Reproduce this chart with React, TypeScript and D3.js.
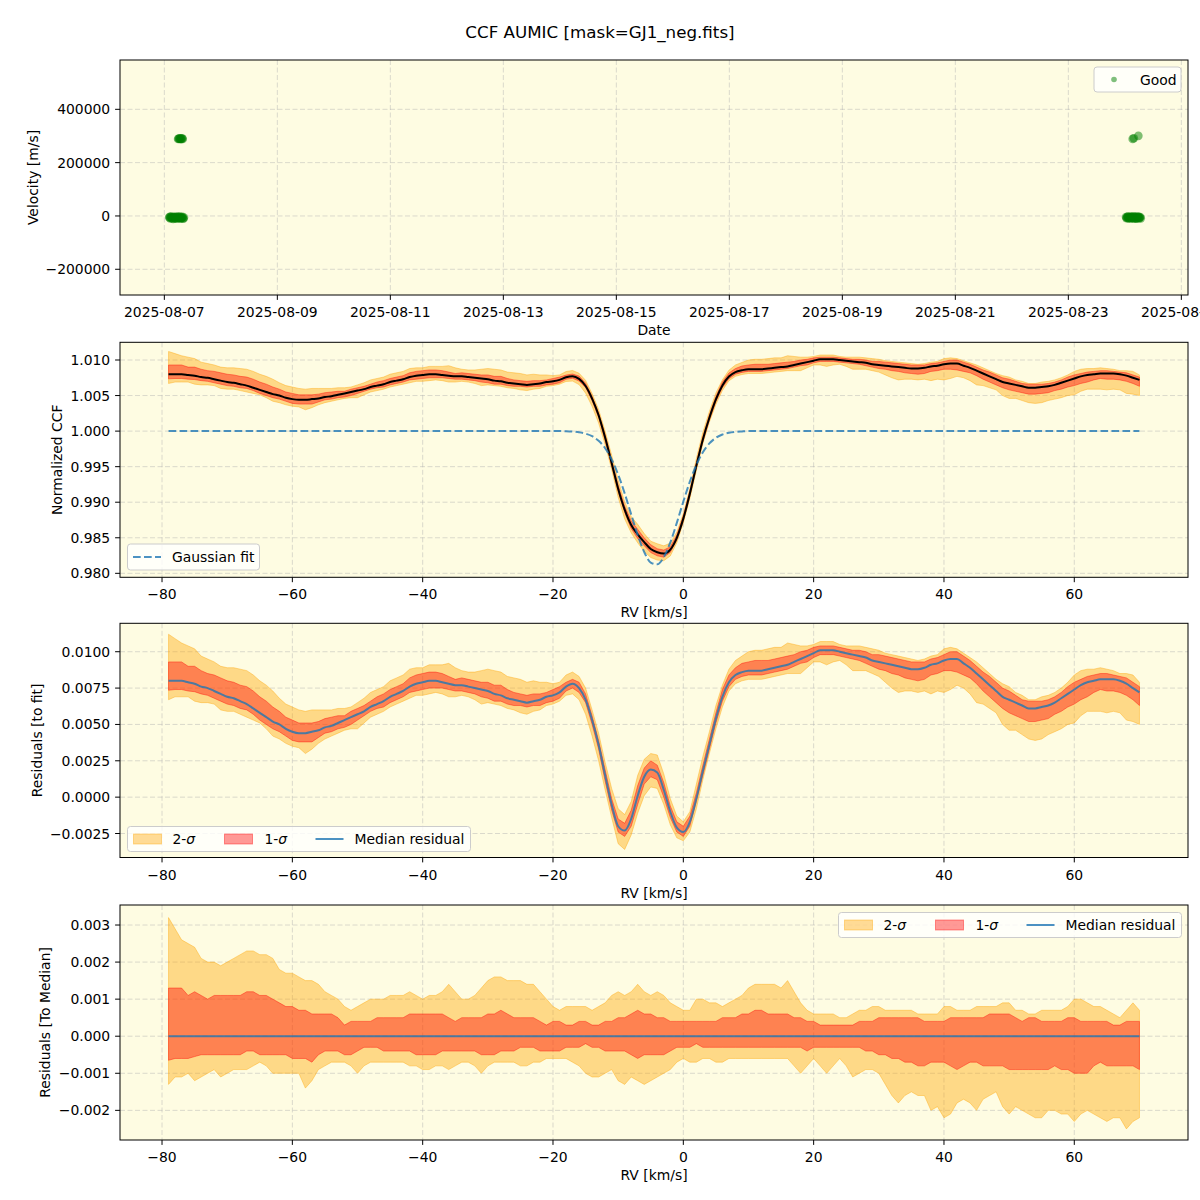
import { useEffect, useRef } from 'react';
import * as d3 from 'd3';

// ---- top panel: observation epochs (UTC) and velocities [m/s]
const obsTimes = [
  '2025-08-07T02:05', '2025-08-07T02:17', '2025-08-07T02:30', '2025-08-07T02:42', '2025-08-07T02:55',
  '2025-08-07T03:07', '2025-08-07T03:20', '2025-08-07T03:32', '2025-08-07T03:45', '2025-08-07T03:57',
  '2025-08-07T04:10', '2025-08-07T04:22', '2025-08-07T04:35', '2025-08-07T04:47', '2025-08-07T05:00',
  '2025-08-07T05:12', '2025-08-07T05:25', '2025-08-07T05:37', '2025-08-07T05:50', '2025-08-07T06:02',
  '2025-08-07T06:15', '2025-08-07T06:27', '2025-08-07T06:40', '2025-08-07T06:52', '2025-08-07T07:05',
  '2025-08-07T07:17', '2025-08-07T07:30', '2025-08-07T07:42', '2025-08-07T07:55', '2025-08-07T08:07',
  '2025-08-07T08:20',
  '2025-08-07T05:50', '2025-08-07T06:05', '2025-08-07T06:20', '2025-08-07T06:35', '2025-08-07T06:50',
  '2025-08-07T07:05', '2025-08-07T07:20', '2025-08-07T07:35', '2025-08-07T07:50',
  '2025-08-24T00:30', '2025-08-24T00:42', '2025-08-24T00:55', '2025-08-24T01:07', '2025-08-24T01:20',
  '2025-08-24T01:32', '2025-08-24T01:45', '2025-08-24T01:57', '2025-08-24T02:10', '2025-08-24T02:22',
  '2025-08-24T02:35', '2025-08-24T02:47', '2025-08-24T03:00', '2025-08-24T03:12', '2025-08-24T03:25',
  '2025-08-24T03:37', '2025-08-24T03:50', '2025-08-24T04:02', '2025-08-24T04:15', '2025-08-24T04:27',
  '2025-08-24T04:40', '2025-08-24T04:52', '2025-08-24T05:05', '2025-08-24T05:17', '2025-08-24T05:30',
  '2025-08-24T05:42', '2025-08-24T05:55', '2025-08-24T06:07', '2025-08-24T06:20', '2025-08-24T06:32',
  '2025-08-24T06:45',
  '2025-08-24T03:20', '2025-08-24T03:50', '2025-08-24T05:45',
];
const obsVelocity = [
  -6000, -3500, -9000, -4500, -2500, -8000, -7500, -5000, -11000, -3000,
  -4000, -9500, -8000, -6000, -5000, -2500, -10000, -7000, -3000, -8500,
  -7000, -4500, -2000, -9000, -9500, -6500, -5500, -3500, -8500, -10500,
  -6000,
  288500, 290000, 289500, 291000, 288000, 290500, 289000, 291500, 288500,
  -4000, -8000, -7000, -3000, -2500, -9000, -8500, -6000, -5000, -2000,
  -9500, -4500, -3500, -7500, -6500, -10000, -1500, -5500, -8000, -3000,
  -4500, -9000, -10000, -6500, -3000, -2500, -7000, -8500, -5500, -4000,
  -9000,
  289000, 291500, 300500,
];
const dateTicks = [
  '2025-08-07', '2025-08-09', '2025-08-11', '2025-08-13', '2025-08-15',
  '2025-08-17', '2025-08-19', '2025-08-21', '2025-08-23', '2025-08-25',
];
const velocityTicks = [-200000, 0, 200000, 400000];

// ---- CCF profile, sampled every 1 km/s from -79 to 70 km/s
const rvGrid = d3.range(-79, 71);
const gaussFit = [
  1, 1, 1, 1, 1, 1, 1, 1, 1, 1,
  1, 1, 1, 1, 1, 1, 1, 1, 1, 1,
  1, 1, 1, 1, 1, 1, 1, 1, 1, 1,
  1, 1, 1, 1, 1, 1, 1, 1, 1, 1,
  1, 1, 1, 1, 1, 1, 1, 1, 1, 1,
  1, 1, 1, 1, 1, 1, 1, 1, 1, 1,
  1, 0.99998, 0.99993, 0.99984, 0.99964, 0.99928, 0.99863, 0.99759, 0.99603, 0.99389,
  0.99125, 0.98829, 0.98539, 0.98299, 0.98152, 0.98126, 0.98227, 0.98434, 0.9871, 0.99009,
  0.99289, 0.99524, 0.99703, 0.99827, 0.99906, 0.99952, 0.99977, 0.9999, 0.99996, 1,
  1, 1, 1, 1, 1, 1, 1, 1, 1, 1,
  1, 1, 1, 1, 1, 1, 1, 1, 1, 1,
  1, 1, 1, 1, 1, 1, 1, 1, 1, 1,
  1, 1, 1, 1, 1, 1, 1, 1, 1, 1,
  1, 1, 1, 1, 1, 1, 1, 1, 1, 1,
  1, 1, 1, 1, 1, 1, 1, 1, 1, 1,
];
const medianResidual = [
  0.0080, 0.0080, 0.0080, 0.0079, 0.0078, 0.0076, 0.0075, 0.0073, 0.0071, 0.0069,
  0.0068, 0.0066, 0.0064, 0.0061, 0.0058, 0.0055, 0.0052, 0.0050, 0.0047, 0.0045,
  0.0044, 0.0044, 0.0045, 0.0046, 0.0048, 0.0049, 0.0051, 0.0053, 0.0055, 0.0057,
  0.0059, 0.0062, 0.0064, 0.0066, 0.0069, 0.0071, 0.0073, 0.0076, 0.0078, 0.0079,
  0.0080, 0.0080, 0.0079, 0.0078, 0.0077, 0.0077, 0.0076, 0.0075, 0.0074, 0.0073,
  0.0071, 0.0070, 0.0068, 0.0067, 0.0066, 0.0065, 0.0066, 0.0067, 0.0069, 0.0070,
  0.0072, 0.0076, 0.0078, 0.0075, 0.0067, 0.0053, 0.0036, 0.0015, -0.0005, -0.0020,
  -0.0023, -0.0015, 0.0001, 0.0014, 0.0019, 0.0017, 0.0005, -0.0010, -0.0021, -0.0024,
  -0.0017, -0.0001, 0.0018, 0.0036, 0.0054, 0.0069, 0.0079, 0.0084, 0.0086, 0.0087,
  0.0087, 0.0087, 0.0088, 0.0089, 0.0090, 0.0091, 0.0093, 0.0095, 0.0097, 0.0099,
  0.0101, 0.0101, 0.0101, 0.0100, 0.0099, 0.0098, 0.0097, 0.0096, 0.0094, 0.0093,
  0.0092, 0.0091, 0.0090, 0.0089, 0.0088, 0.0088, 0.0089, 0.0091, 0.0092, 0.0094,
  0.0095, 0.0095, 0.0092, 0.0089, 0.0085, 0.0081, 0.0077, 0.0073, 0.0069, 0.0067,
  0.0065, 0.0063, 0.0061, 0.0061, 0.0062, 0.0063, 0.0065, 0.0068, 0.0071, 0.0074,
  0.0077, 0.0079, 0.0080, 0.0081, 0.0081, 0.0081, 0.0080, 0.0078, 0.0075, 0.0072,
];
// spread of the individual CCFs around the median (bottom panel)
const sigma2Upper = [
  0.0032, 0.0029, 0.0026, 0.0025, 0.0024, 0.0021, 0.0020, 0.0020, 0.0019, 0.0020,
  0.0021, 0.0022, 0.0023, 0.0023, 0.0022, 0.0022, 0.0021, 0.0018, 0.0017, 0.0017,
  0.0016, 0.0015, 0.0015, 0.0014, 0.0012, 0.0011, 0.0010, 0.0008, 0.0007, 0.0008,
  0.0009, 0.0010, 0.0010, 0.0010, 0.0011, 0.0011, 0.0011, 0.0012, 0.0011, 0.0010,
  0.0011, 0.0011, 0.0012, 0.0014, 0.0012, 0.0010, 0.0010, 0.0011, 0.0013, 0.0015,
  0.0016, 0.0016, 0.0015, 0.0015, 0.0015, 0.0014, 0.0014, 0.0012, 0.0010, 0.0008,
  0.0007, 0.0008, 0.0008, 0.0008, 0.0008, 0.0007, 0.0008, 0.0009, 0.0011, 0.0012,
  0.0011, 0.0012, 0.0014, 0.0012, 0.0011, 0.0012, 0.0011, 0.0009, 0.0008, 0.0007,
  0.0007, 0.0010, 0.0010, 0.0009, 0.0009, 0.0008, 0.0009, 0.0010, 0.0011, 0.0013,
  0.0014, 0.0014, 0.0014, 0.0014, 0.0013, 0.0015, 0.0012, 0.0009, 0.0007, 0.0006,
  0.0006, 0.0006, 0.0006, 0.0005, 0.0005, 0.0006, 0.0007, 0.0007, 0.0008, 0.0008,
  0.0007, 0.0007, 0.0007, 0.0007, 0.0007, 0.0006, 0.0006, 0.0006, 0.0006, 0.0008,
  0.0008, 0.0007, 0.0007, 0.0007, 0.0008, 0.0008, 0.0008, 0.0008, 0.0009, 0.0009,
  0.0007, 0.0007, 0.0006, 0.0006, 0.0007, 0.0007, 0.0007, 0.0007, 0.0008, 0.0010,
  0.0010, 0.0009, 0.0008, 0.0008, 0.0007, 0.0006, 0.0005, 0.0007, 0.0009, 0.0007,
];
const sigma1Upper = [
  0.0013, 0.0013, 0.0013, 0.0011, 0.0012, 0.0011, 0.0010, 0.0011, 0.0011, 0.0011,
  0.0011, 0.0011, 0.0012, 0.0012, 0.0011, 0.0011, 0.0010, 0.0009, 0.0008, 0.0008,
  0.0007, 0.0007, 0.0006, 0.0006, 0.0006, 0.0006, 0.0005, 0.0003, 0.0004, 0.0004,
  0.0004, 0.0004, 0.0005, 0.0005, 0.0005, 0.0005, 0.0005, 0.0006, 0.0006, 0.0006,
  0.0006, 0.0006, 0.0006, 0.0005, 0.0004, 0.0005, 0.0005, 0.0005, 0.0005, 0.0006,
  0.0006, 0.0007, 0.0006, 0.0005, 0.0005, 0.0005, 0.0005, 0.0004, 0.0003, 0.0004,
  0.0004, 0.0003, 0.0003, 0.0004, 0.0004, 0.0003, 0.0003, 0.0004, 0.0004, 0.0005,
  0.0005, 0.0006, 0.0007, 0.0006, 0.0006, 0.0005, 0.0005, 0.0004, 0.0004, 0.0004,
  0.0004, 0.0004, 0.0004, 0.0004, 0.0004, 0.0005, 0.0005, 0.0005, 0.0006, 0.0006,
  0.0007, 0.0007, 0.0006, 0.0006, 0.0006, 0.0006, 0.0005, 0.0005, 0.0004, 0.0004,
  0.0003, 0.0003, 0.0003, 0.0003, 0.0003, 0.0003, 0.0004, 0.0004, 0.0004, 0.0005,
  0.0005, 0.0005, 0.0005, 0.0005, 0.0005, 0.0005, 0.0004, 0.0004, 0.0004, 0.0004,
  0.0005, 0.0005, 0.0005, 0.0005, 0.0005, 0.0005, 0.0006, 0.0006, 0.0006, 0.0006,
  0.0005, 0.0004, 0.0005, 0.0005, 0.0004, 0.0004, 0.0004, 0.0004, 0.0005, 0.0005,
  0.0004, 0.0004, 0.0004, 0.0004, 0.0004, 0.0003, 0.0003, 0.0004, 0.0004, 0.0004,
];
const sigma1Lower = [
  -0.00065, -0.0006, -0.0006, -0.0006, -0.00055, -0.0005, -0.0005, -0.0005, -0.0005, -0.0005,
  -0.0005, -0.0005, -0.0004, -0.0004, -0.0005, -0.0005, -0.0005, -0.0005, -0.0005, -0.0006,
  -0.0006, -0.0006, -0.0007, -0.0005, -0.0004, -0.0004, -0.0004, -0.0005, -0.0005, -0.0004,
  -0.0003, -0.0003, -0.0003, -0.0004, -0.0004, -0.0004, -0.0004, -0.0004, -0.0005, -0.0005,
  -0.0005, -0.0005, -0.0004, -0.0004, -0.0004, -0.0004, -0.0004, -0.0004, -0.0005, -0.0005,
  -0.0005, -0.0004, -0.0004, -0.0004, -0.0003, -0.0003, -0.0003, -0.0004, -0.0004, -0.0004,
  -0.0004, -0.0003, -0.0003, -0.0003, -0.0002, -0.0003, -0.0003, -0.0004, -0.0004, -0.0004,
  -0.0004, -0.0005, -0.0006, -0.0005, -0.0005, -0.0005, -0.0005, -0.0004, -0.0003, -0.0003,
  -0.0003, -0.0002, -0.0003, -0.0003, -0.0003, -0.0003, -0.0003, -0.0003, -0.0003, -0.0003,
  -0.0003, -0.0003, -0.0003, -0.0003, -0.0003, -0.0003, -0.0003, -0.0003, -0.0004, -0.0003,
  -0.0003, -0.0003, -0.0003, -0.0003, -0.0003, -0.0003, -0.0003, -0.0004, -0.0004, -0.0005,
  -0.0005, -0.0006, -0.0006, -0.0007, -0.0007, -0.0008, -0.0008, -0.0007, -0.0007, -0.0007,
  -0.0008, -0.0009, -0.0008, -0.0007, -0.0007, -0.0008, -0.0008, -0.0008, -0.0008, -0.0009,
  -0.0009, -0.0009, -0.0009, -0.0009, -0.0009, -0.0009, -0.0008, -0.0009, -0.0009, -0.0010,
  -0.0010, -0.0010, -0.0008, -0.0007, -0.0008, -0.0008, -0.0008, -0.0008, -0.0008, -0.0009,
];
const sigma2Lower = [
  -0.0013, -0.0011, -0.0011, -0.0010, -0.0012, -0.0011, -0.0010, -0.0009, -0.0011, -0.0010,
  -0.0009, -0.0009, -0.0009, -0.0008, -0.0007, -0.0008, -0.0010, -0.0010, -0.0010, -0.0010,
  -0.0010, -0.0014, -0.0012, -0.0009, -0.0008, -0.0007, -0.0007, -0.0007, -0.0008, -0.0010,
  -0.0008, -0.0007, -0.0007, -0.0007, -0.0007, -0.0007, -0.0007, -0.0008, -0.0008, -0.0009,
  -0.0009, -0.0008, -0.0008, -0.0009, -0.0008, -0.0007, -0.0007, -0.0008, -0.0010, -0.0008,
  -0.0007, -0.0007, -0.0007, -0.0007, -0.0008, -0.0008, -0.0007, -0.0007, -0.0006, -0.0006,
  -0.0006, -0.0006, -0.0007, -0.0008, -0.0010, -0.0011, -0.0011, -0.0010, -0.0009, -0.0012,
  -0.0013, -0.0011, -0.0012, -0.0013, -0.0012, -0.0011, -0.0010, -0.0009, -0.0007, -0.0006,
  -0.0007, -0.0007, -0.0006, -0.0006, -0.0007, -0.0007, -0.0006, -0.0006, -0.0006, -0.0006,
  -0.0006, -0.0006, -0.0006, -0.0006, -0.0006, -0.0006, -0.0008, -0.0010, -0.0008, -0.0006,
  -0.0008, -0.0010, -0.0008, -0.0006, -0.0008, -0.0011, -0.0010, -0.0009, -0.0009, -0.0010,
  -0.0013, -0.0016, -0.0018, -0.0016, -0.0015, -0.0016, -0.0016, -0.0020, -0.0019, -0.0022,
  -0.0021, -0.0018, -0.0017, -0.0018, -0.0020, -0.0017, -0.0016, -0.0015, -0.0019, -0.0021,
  -0.0019, -0.0020, -0.0021, -0.0022, -0.0022, -0.0020, -0.0020, -0.0021, -0.0021, -0.0023,
  -0.0021, -0.0020, -0.0021, -0.0022, -0.0023, -0.0022, -0.0022, -0.0025, -0.0023, -0.0022,
];

const rvTicks = [-80, -60, -40, -20, 0, 20, 40, 60];
const ccfTicks = [0.98, 0.985, 0.99, 0.995, 1.0, 1.005, 1.01];
const residTicks = [-0.0025, 0, 0.0025, 0.005, 0.0075, 0.01];
const spreadTicks = [-0.002, -0.001, 0, 0.001, 0.002, 0.003];

const W = 1200;
const H = 1200;
const LEFT = 120;
const RIGHT = 1188;
const BG = '#fefce2';
const FONT = '"DejaVu Sans", sans-serif';
const FS = 13.9;
const ORANGE = '#ffa500';
const RED = '#ff0000';
const BLUE = '#1f77b4';

type G = d3.Selection<SVGGElement, unknown, null, undefined>;

function panelBase(svg: G, id: string, top: number, bottom: number, xs: number[], ys: number[]) {
  svg.append('rect')
    .attr('x', LEFT).attr('y', top)
    .attr('width', RIGHT - LEFT).attr('height', bottom - top)
    .attr('fill', BG);

  const grid = svg.append('g')
    .attr('stroke', '#b0b0b0')
    .attr('stroke-opacity', 0.5)
    .attr('stroke-width', 0.9)
    .attr('stroke-dasharray', '5,2.5');
  grid.selectAll('.gx').data(xs).join('line')
    .attr('x1', d => d).attr('x2', d => d)
    .attr('y1', top).attr('y2', bottom);
  grid.selectAll('.gy').data(ys).join('line')
    .attr('x1', LEFT).attr('x2', RIGHT)
    .attr('y1', d => d).attr('y2', d => d);

  svg.append('clipPath').attr('id', id)
    .append('rect')
    .attr('x', LEFT).attr('y', top)
    .attr('width', RIGHT - LEFT).attr('height', bottom - top);

  return svg.append('g').attr('clip-path', `url(#${id})`);
}

function panelAxes(
  svg: G, top: number, bottom: number,
  xTicks: [number, string][], yTicks: [number, string][],
  xLabel: string, yLabel: string, yLabelX: number,
) {
  svg.append('rect')
    .attr('x', LEFT).attr('y', top)
    .attr('width', RIGHT - LEFT).attr('height', bottom - top)
    .attr('fill', 'none').attr('stroke', '#000').attr('stroke-width', 1);

  const ax = svg.append('g').attr('font-family', FONT).attr('font-size', FS).attr('fill', '#000');

  ax.selectAll('.xt').data(xTicks).join('line')
    .attr('x1', d => d[0]).attr('x2', d => d[0])
    .attr('y1', bottom).attr('y2', bottom + 4.9)
    .attr('stroke', '#000').attr('stroke-width', 1);
  ax.selectAll('.xl').data(xTicks).join('text')
    .attr('x', d => d[0]).attr('y', bottom + 22)
    .attr('text-anchor', 'middle')
    .text(d => d[1]);

  ax.selectAll('.yt').data(yTicks).join('line')
    .attr('x1', LEFT - 4.9).attr('x2', LEFT)
    .attr('y1', d => d[0]).attr('y2', d => d[0])
    .attr('stroke', '#000').attr('stroke-width', 1);
  ax.selectAll('.yl').data(yTicks).join('text')
    .attr('x', LEFT - 9.8).attr('y', d => d[0] + 5)
    .attr('text-anchor', 'end')
    .text(d => d[1]);

  ax.append('text')
    .attr('x', (LEFT + RIGHT) / 2).attr('y', bottom + 40)
    .attr('text-anchor', 'middle')
    .text(xLabel);
  ax.append('text')
    .attr('transform', `translate(${yLabelX},${(top + bottom) / 2}) rotate(-90)`)
    .attr('dy', '0.35em')
    .attr('text-anchor', 'middle')
    .text(yLabel);
}

function legendFrame(svg: G, x: number, y: number, w: number, h: number) {
  svg.append('rect')
    .attr('x', x).attr('y', y).attr('width', w).attr('height', h)
    .attr('rx', 3)
    .attr('fill', '#fff').attr('fill-opacity', 0.8)
    .attr('stroke', '#cccccc').attr('stroke-width', 1);
}

function legendText(svg: G, x: number, y: number, label: string, sigma = false) {
  const t = svg.append('text')
    .attr('x', x).attr('y', y + 5)
    .attr('font-family', FONT).attr('font-size', FS).attr('fill', '#000');
  if (sigma) {
    t.append('tspan').text(`${label}-`);
    t.append('tspan').attr('font-style', 'italic').text('σ');
  } else {
    t.text(label);
  }
}

function legendPatch(svg: G, x: number, cy: number, color: string) {
  svg.append('rect')
    .attr('x', x).attr('y', cy - 5).attr('width', 28).attr('height', 10)
    .attr('fill', color).attr('fill-opacity', 0.4)
    .attr('stroke', color).attr('stroke-opacity', 0.4).attr('stroke-width', 1);
}

function residualLegend(svg: G, x: number, y: number) {
  // x, y: top-left corner of the frame
  legendFrame(svg, x, y, 343, 25);
  const cy = y + 12.5;
  legendPatch(svg, x + 6, cy, ORANGE);
  legendText(svg, x + 45, cy, '2', true);
  legendPatch(svg, x + 97, cy, RED);
  legendText(svg, x + 137, cy, '1', true);
  svg.append('line')
    .attr('x1', x + 188).attr('x2', x + 216).attr('y1', cy).attr('y2', cy)
    .attr('stroke', BLUE).attr('stroke-opacity', 0.8).attr('stroke-width', 2);
  legendText(svg, x + 227, cy, 'Median residual');
}

function App() {
  const svgRef = useRef<SVGSVGElement>(null);

  useEffect(() => {
    if (!svgRef.current) return;
    const root = d3.select(svgRef.current);
    root.selectAll('*').remove();
    const svg = root.append('g') as unknown as G;

    svg.append('rect').attr('width', W).attr('height', H).attr('fill', '#fff');

    svg.append('text')
      .attr('x', W / 2).attr('y', 38)
      .attr('text-anchor', 'middle')
      .attr('font-family', FONT).attr('font-size', 16.7)
      .text('CCF AUMIC [mask=GJ1_neg.fits]');

    const idx = rvGrid.map((_, i) => i);
    const ccfMedian = gaussFit.map((g, i) => g + medianResidual[i]);
    const zeroLine = rvGrid.map(() => 0);

    const rv = d3.scaleLinear().domain([-86.45, 77.45]).range([LEFT, RIGHT]);
    const rvTickPos: [number, string][] = rvTicks.map(t => [rv(t), d3.format('d')(t)]);

    // ---------- panel 1: velocity vs date
    {
      const top = 60, bottom = 295;
      const parseTime = d3.utcParse('%Y-%m-%dT%H:%M');
      const parseDay = d3.utcParse('%Y-%m-%d');
      const x = d3.scaleUtc()
        .domain([parseTime('2025-08-06T05:10')!, parseTime('2025-08-25T02:50')!])
        .range([LEFT, RIGHT]);
      const y = d3.scaleLinear().domain([-296500, 585000]).range([bottom, top]);

      const xt: [number, string][] = dateTicks.map(d => [x(parseDay(d)!), d]);
      const yt: [number, string][] = velocityTicks.map(v => [y(v), d3.format('d')(v)]);
      const plot = panelBase(svg, 'clip1', top, bottom, xt.map(d => d[0]), yt.map(d => d[0]));

      plot.selectAll('circle').data(obsTimes).join('circle')
        .attr('cx', d => x(parseTime(d)!))
        .attr('cy', (_, i) => y(obsVelocity[i]))
        .attr('r', 4.3)
        .attr('fill', 'green')
        .attr('fill-opacity', 0.5);

      panelAxes(svg, top, bottom, xt, yt, 'Date', 'Velocity [m/s]', 33);

      legendFrame(svg, 1094, 67, 87, 25);
      svg.append('circle').attr('cx', 1114).attr('cy', 79.5).attr('r', 2.8)
        .attr('fill', 'green').attr('fill-opacity', 0.5);
      legendText(svg, 1140, 79.5, 'Good');
    }

    // ---------- panel 2: normalized CCF
    {
      const top = 342.3, bottom = 577.3;
      const y = d3.scaleLinear().domain([0.97944, 1.01249]).range([bottom, top]);
      const yt: [number, string][] = ccfTicks.map(v => [y(v), d3.format('.3f')(v)]);
      const plot = panelBase(svg, 'clip2', top, bottom, rvTickPos.map(d => d[0]), yt.map(d => d[0]));

      const band = (lo: number[], hi: number[]) => d3.area<number>()
        .x(i => rv(rvGrid[i]))
        .y0(i => y(ccfMedian[i] + lo[i]))
        .y1(i => y(ccfMedian[i] + hi[i]));

      plot.append('path').attr('d', band(sigma2Lower, sigma2Upper)(idx))
        .attr('fill', ORANGE).attr('fill-opacity', 0.4)
        .attr('stroke', ORANGE).attr('stroke-opacity', 0.4).attr('stroke-width', 1);
      plot.append('path').attr('d', band(sigma1Lower, sigma1Upper)(idx))
        .attr('fill', RED).attr('fill-opacity', 0.4)
        .attr('stroke', RED).attr('stroke-opacity', 0.4).attr('stroke-width', 1);

      const med = d3.line<number>().x(i => rv(rvGrid[i])).y(i => y(ccfMedian[i])).curve(d3.curveMonotoneX);
      plot.append('path').attr('d', med(idx))
        .attr('fill', 'none').attr('stroke', '#000').attr('stroke-width', 2);

      const fit = d3.line<number>().x(i => rv(rvGrid[i])).y(i => y(gaussFit[i])).curve(d3.curveMonotoneX);
      plot.append('path').attr('d', fit(idx))
        .attr('fill', 'none').attr('stroke', BLUE).attr('stroke-opacity', 0.8)
        .attr('stroke-width', 2).attr('stroke-dasharray', '7.7,3.3');

      panelAxes(svg, top, bottom, rvTickPos, yt, 'RV [km/s]', 'Normalized CCF', 57);

      legendFrame(svg, 127.5, 544, 132, 26);
      svg.append('line').attr('x1', 133).attr('x2', 161).attr('y1', 557).attr('y2', 557)
        .attr('stroke', BLUE).attr('stroke-opacity', 0.8)
        .attr('stroke-width', 2).attr('stroke-dasharray', '7.7,3.3');
      legendText(svg, 172, 557, 'Gaussian fit');
    }

    // ---------- panel 3: residuals to the Gaussian fit
    {
      const top = 623.3, bottom = 857.5;
      const y = d3.scaleLinear().domain([-0.00415, 0.011955]).range([bottom, top]);
      const yt: [number, string][] = residTicks.map(v => [y(v), d3.format('.4f')(v)]);
      const plot = panelBase(svg, 'clip3', top, bottom, rvTickPos.map(d => d[0]), yt.map(d => d[0]));

      const band = (lo: number[], hi: number[]) => d3.area<number>()
        .x(i => rv(rvGrid[i]))
        .y0(i => y(medianResidual[i] + lo[i]))
        .y1(i => y(medianResidual[i] + hi[i]));

      plot.append('path').attr('d', band(sigma2Lower, sigma2Upper)(idx))
        .attr('fill', ORANGE).attr('fill-opacity', 0.4)
        .attr('stroke', ORANGE).attr('stroke-opacity', 0.4).attr('stroke-width', 1);
      plot.append('path').attr('d', band(sigma1Lower, sigma1Upper)(idx))
        .attr('fill', RED).attr('fill-opacity', 0.4)
        .attr('stroke', RED).attr('stroke-opacity', 0.4).attr('stroke-width', 1);

      const med = d3.line<number>().x(i => rv(rvGrid[i])).y(i => y(medianResidual[i])).curve(d3.curveMonotoneX);
      plot.append('path').attr('d', med(idx))
        .attr('fill', 'none').attr('stroke', BLUE).attr('stroke-opacity', 0.8).attr('stroke-width', 2);

      panelAxes(svg, top, bottom, rvTickPos, yt, 'RV [km/s]', 'Residuals [to fit]', 37);
      residualLegend(svg, 127.5, 826.5);
    }

    // ---------- panel 4: residuals to the median
    {
      const top = 905, bottom = 1140;
      const y = d3.scaleLinear().domain([-0.0028, 0.00354]).range([bottom, top]);
      const yt: [number, string][] = spreadTicks.map(v => [y(v), d3.format('.3f')(v)]);
      const plot = panelBase(svg, 'clip4', top, bottom, rvTickPos.map(d => d[0]), yt.map(d => d[0]));

      const band = (lo: number[], hi: number[]) => d3.area<number>()
        .x(i => rv(rvGrid[i]))
        .y0(i => y(lo[i]))
        .y1(i => y(hi[i]));

      plot.append('path').attr('d', band(sigma2Lower, sigma2Upper)(idx))
        .attr('fill', ORANGE).attr('fill-opacity', 0.4)
        .attr('stroke', ORANGE).attr('stroke-opacity', 0.4).attr('stroke-width', 1);
      plot.append('path').attr('d', band(sigma1Lower, sigma1Upper)(idx))
        .attr('fill', RED).attr('fill-opacity', 0.4)
        .attr('stroke', RED).attr('stroke-opacity', 0.4).attr('stroke-width', 1);

      const med = d3.line<number>().x(i => rv(rvGrid[i])).y(i => y(zeroLine[i]));
      plot.append('path').attr('d', med(idx))
        .attr('fill', 'none').attr('stroke', BLUE).attr('stroke-opacity', 0.8).attr('stroke-width', 2);

      panelAxes(svg, top, bottom, rvTickPos, yt, 'RV [km/s]', 'Residuals [To Median]', 45);
      residualLegend(svg, 838.5, 912.5);
    }
  }, []);

  return (
    <svg
      ref={svgRef}
      width={W}
      height={H}
      style={{ position: 'absolute', left: 0, top: 0, display: 'block' }}
    />
  );
}

export default App;
